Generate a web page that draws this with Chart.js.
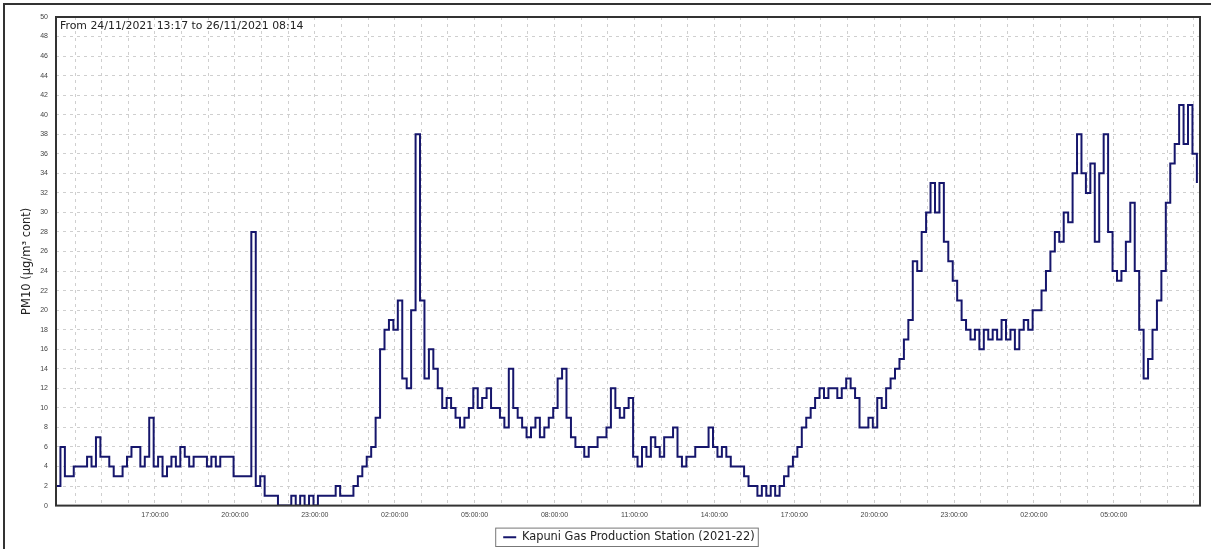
<!DOCTYPE html>
<html>
<head>
<meta charset="utf-8">
<title>PM10 - Kapuni Gas Production Station</title>
<script src="https://cdn.jsdelivr.net/npm/chart.js@4.4.0/dist/chart.umd.min.js"></script>
<style>
  html, body { margin: 0; padding: 0; background: #fff; }
  #wrap { position: relative; width: 1211px; height: 549px; overflow: hidden; }
  #frame { position: absolute; left: 3px; top: 3px; right: -10px; bottom: -10px;
           border-left: 2px solid #333; border-top: 2px solid #333; pointer-events: none; }
</style>
</head>
<body>
<div id="wrap">
  <canvas id="pmChart" width="1211" height="549"></canvas>
  <div id="frame"></div>
</div>
<script>
// Time is in minutes from 24/11/2021 00:00
const startMinute = 797;   // 24/11 13:17
const endMinute = 3374;    // 26/11 08:14
const stepMinutes = 10;

const seriesLabel = 'Kapuni Gas Production Station (2021-22)';
const periodText = 'From 24/11/2021 13:17 to 26/11/2021 08:14';

// PM10 readings, one every 10 minutes from 13:17
const pm10 = [
  2, 6, 3, 3, 4, 4, 4, 5, 4, 7,
  5, 5, 4, 3, 3, 4, 5, 6, 6, 4,
  5, 9, 4, 5, 3, 4, 5, 4, 6, 5,
  4, 5, 5, 5, 4, 5, 4, 5, 5, 5,
  3, 3, 3, 3, 28, 2, 3, 1, 1, 1,
  0, 0, 0, 1, 0, 1, 0, 1, 0, 1,
  1, 1, 1, 2, 1, 1, 1, 2, 3, 4,
  5, 6, 9, 16, 18, 19, 18, 21, 13, 12,
  20, 38, 21, 13, 16, 14, 12, 10, 11, 10,
  9, 8, 9, 10, 12, 10, 11, 12, 10, 10,
  9, 8, 14, 10, 9, 8, 7, 8, 9, 7,
  8, 9, 10, 13, 14, 9, 7, 6, 6, 5,
  6, 6, 7, 7, 8, 12, 10, 9, 10, 11,
  5, 4, 6, 5, 7, 6, 5, 7, 7, 8,
  5, 4, 5, 5, 6, 6, 6, 8, 6, 5,
  6, 5, 4, 4, 4, 3, 2, 2, 1, 2,
  1, 2, 1, 2, 3, 4, 5, 6, 8, 9,
  10, 11, 12, 11, 12, 12, 11, 12, 13, 12,
  11, 8, 8, 9, 8, 11, 10, 12, 13, 14,
  15, 17, 19, 25, 24, 28, 30, 33, 30, 33,
  27, 25, 23, 21, 19, 18, 17, 18, 16, 18,
  17, 18, 17, 19, 17, 18, 16, 18, 19, 18,
  20, 20, 22, 24, 26, 28, 27, 30, 29, 34,
  38, 34, 32, 35, 27, 34, 38, 28, 24, 23,
  24, 27, 31, 24, 18, 13, 15, 18, 21, 24,
  31, 35, 37, 41, 37, 41, 36, 33
];

// labelled x ticks (every 3 hours)
const xTickMinutes = [1020, 1200, 1380, 1560, 1740, 1920, 2100, 2280, 2460, 2640, 2820, 3000, 3180];
const xTickLabels = ['17:00:00', '20:00:00', '23:00:00', '02:00:00', '05:00:00', '08:00:00', '11:00:00',
                     '14:00:00', '17:00:00', '20:00:00', '23:00:00', '02:00:00', '05:00:00'];
const gridMinutes = [];
for (let m = 840; m <= 3360; m += 60) gridMinutes.push(m);

const lineColor = '#16166c';
const textFont = '"DejaVu Sans", Verdana, sans-serif';

// text in the top-left corner, dark frame round the plot, box round the legend
const framePlugin = {
  id: 'frame',
  afterLayout(chart) {
    // legend sits a little right of centre in the original
    chart.legend.left += 19;
    chart.legend.right += 19;
  },
  afterDatasetsDraw(chart) {
    const {ctx, chartArea: a} = chart;
    ctx.save();
    ctx.strokeStyle = '#333';
    ctx.lineWidth = 2;
    ctx.strokeRect(a.left, a.top, a.right - a.left, a.bottom - a.top);
    ctx.fillStyle = '#222';
    ctx.font = '10.9px ' + textFont;
    ctx.textBaseline = 'middle';
    ctx.fillText(periodText, a.left + 4, a.top + 9);
    ctx.restore();
  },
  afterDraw(chart) {
    const box = chart.legend.legendHitBoxes[0];
    if (!box) return;
    const {ctx} = chart;
    ctx.save();
    ctx.strokeStyle = '#777';
    ctx.lineWidth = 1;
    ctx.strokeRect(box.left - 7.5, box.top - 3.5, box.width + 11, box.height + 7);
    ctx.restore();
  }
};

new Chart(document.getElementById('pmChart'), {
  type: 'line',
  data: {
    datasets: [{
      label: seriesLabel,
      data: pm10.map((v, i) => ({x: startMinute + i * stepMinutes, y: v})),
      borderColor: lineColor,
      backgroundColor: lineColor,
      borderWidth: 2,
      stepped: true,
      pointRadius: 0,
      fill: false
    }]
  },
  options: {
    responsive: false,
    animation: false,
    layout: { padding: { left: 20, top: 17, right: 11, bottom: -4 } },
    plugins: {
      legend: {
        position: 'bottom',
        labels: {
          usePointStyle: true,
          pointStyle: 'line',
          pointStyleWidth: 13,
          padding: 4,
          color: '#222',
          font: { family: textFont, size: 11.4 }
        }
      },
      tooltip: { enabled: false }
    },
    scales: {
      x: {
        type: 'linear',
        min: startMinute,
        max: endMinute,
        afterBuildTicks: (scale) => { scale.ticks = gridMinutes.map(v => ({value: v})); },
        afterFit: (scale) => { scale.height = 22; },
        grid: { color: '#cfcfcf', drawTicks: false },
        border: { display: false, dash: [3, 4] },
        ticks: {
          autoSkip: false,
          maxRotation: 0,
          padding: 5,
          color: '#444',
          font: { family: '"Liberation Sans", Arial, sans-serif', size: 7 },
          callback: (value) => {
            const k = xTickMinutes.indexOf(value);
            return k >= 0 ? xTickLabels[k] : '';
          }
        }
      },
      y: {
        min: 0,
        max: 50,
        afterFit: (scale) => { scale.width = 36; },
        grid: { color: '#cfcfcf', drawTicks: false },
        border: { display: false, dash: [3, 4] },
        ticks: {
          stepSize: 2,
          padding: 8,
          color: '#444',
          font: { family: '"Liberation Sans", Arial, sans-serif', size: 7 }
        },
        title: {
          display: true,
          text: 'PM10 (µg/m³ cont)',
          color: '#222',
          padding: 0,
          font: { family: textFont, size: 11.5 }
        }
      }
    }
  },
  plugins: [framePlugin]
});
</script>
</body>
</html>
